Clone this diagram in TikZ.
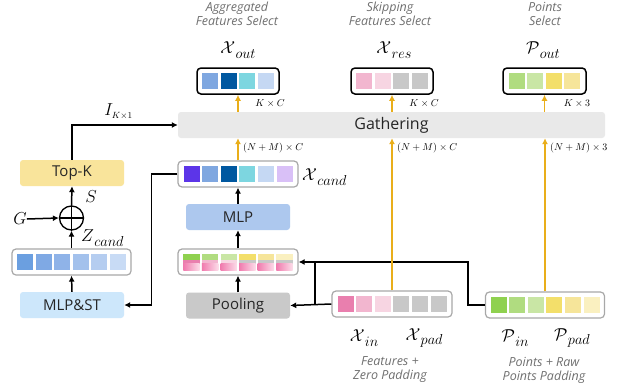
\documentclass[tikz,border=0pt]{standalone}
\usepackage{fontspec}
\setmainfont{Open Sans}
\usetikzlibrary{arrows.meta,calc}
\definecolor{boxgray}{HTML}{A8A8A8}
\definecolor{gold}{HTML}{E9AE1A}
\definecolor{topkc}{HTML}{F9E49B}
\definecolor{mlpstc}{HTML}{CDE7FB}
\definecolor{mlpc}{HTML}{ADC8EE}
\definecolor{poolc}{HTML}{C9C9C9}
\definecolor{gathc}{HTML}{E9E9E9}
\definecolor{labgray}{HTML}{707070}
\definecolor{lb1}{HTML}{6B9FE0}
\definecolor{lb2}{HTML}{7FA9E4}
\definecolor{lb3}{HTML}{8FB3E8}
\definecolor{lb4}{HTML}{A3C1EC}
\definecolor{lb5}{HTML}{B5CDF0}
\definecolor{lb6}{HTML}{C8DBF5}
\definecolor{cv}{HTML}{5C35E8}
\definecolor{cb}{HTML}{7FA7E0}
\definecolor{cd}{HTML}{0058A0}
\definecolor{cc}{HTML}{7DD6E0}
\definecolor{cl}{HTML}{C5D8F3}
\definecolor{cp}{HTML}{D9C0F7}
\definecolor{xi1}{HTML}{E97FAE}
\definecolor{xi2}{HTML}{F2B6CF}
\definecolor{xi3}{HTML}{F7D5E2}
\definecolor{xg}{HTML}{C8C8C8}
\definecolor{pg1}{HTML}{8FD14F}
\definecolor{pg2}{HTML}{B0DC80}
\definecolor{pg3}{HTML}{C9E6A5}
\definecolor{py1}{HTML}{F3DF6A}
\definecolor{py2}{HTML}{F6E59A}
\definecolor{py3}{HTML}{FAF0C0}
\definecolor{pinkd}{HTML}{F07BAE}
\definecolor{pinkl}{HTML}{FCDDE9}
\newcommand{\cellrow}[3]{%
  \foreach \c [count=\i] in {#3}
    \node[cellb,fill=\c] (#1-\i) at ($(#1.center)+({(\i-(#2+1)/2)*18.6},0)$) {};}
\newcommand{\sublab}[2]{$#1$\kern0.3pt\raisebox{-4.5pt}{\fontsize{13.5}{15}\selectfont$#2$}}
\begin{document}
\begin{tikzpicture}[x=1pt,y=-1pt,
  vecbox/.style={draw=boxgray,line width=1.2pt,rounded corners=4pt,fill=white,inner sep=0,minimum width=120pt,minimum height=26pt},
  outbox/.style={draw=black,line width=1.5pt,rounded corners=4pt,fill=white,inner sep=0,minimum width=82pt,minimum height=26pt},
  cellb/.style={minimum width=16pt,minimum height=16pt,inner sep=0,draw=none},
  opbox/.style={rounded corners=3pt,inner sep=0,minimum width=104pt,minimum height=26pt,font=\fontsize{15}{18}\selectfont,text=black!85},
  arr/.style={line width=1.5pt,-{Latex[length=6pt,width=6pt]}},
  garr/.style={line width=1.5pt,draw=gold,-{Latex[length=6pt,width=6pt]}},
  plainline/.style={line width=1.5pt},
  dimlab/.style={font=\fontsize{10}{12}\selectfont,inner sep=0},
  mathlab/.style={font=\fontsize{18}{21}\selectfont,inner sep=0},
  itlab/.style={font=\fontsize{12.5}{15}\selectfont\itshape,text=labgray,inner sep=0,align=center}
]
\fill[white] (0,0) rectangle (621,391);
\useasboundingbox (0,0) rectangle (621,391);

% gathering
\node[opbox,fill=gathc,minimum width=427pt,font=\fontsize{16}{19}\selectfont] (gath) at (391.5,125) {Gathering};

% left column
\node[opbox,fill=topkc] (topk) at (72,173) {Top-K};
\node[circle,draw,line width=1.3pt,minimum size=24pt,inner sep=0] (oplus) at (71.5,218) {};
\draw[line width=1.3pt] (oplus.north) -- (oplus.south) (oplus.west) -- (oplus.east);
\node[vecbox,minimum width=119pt] (lvec) at (71.5,262) {};
\cellrow{lvec}{6}{lb1,lb2,lb3,lb4,lb5,lb6}
\node[opbox,fill=mlpstc] (mlpst) at (72,305) {MLP\&ST};
\node[mathlab] (G) at (20,219) {$G$};
\node[mathlab] (S) at (91,197) {$S$};
\node[mathlab,anchor=west] (Z) at (81,238) {\sublab{Z}{cand}};

% middle column
\node[vecbox] (xcand) at (238,174) {};
\cellrow{xcand}{6}{cv,cb,cd,cc,cl,cp}
\node[mathlab,anchor=west] (xcandl) at (302,177) {\sublab{\mathcal{X}}{cand}};
\node[opbox,fill=mlpc] (mlp) at (238,217) {MLP};
\node[vecbox] (pooled) at (238,262) {};
\foreach \a/\b [count=\i] in {pg1/xi1,pg2/xi2,pg3/xi3,py1/xg,py2/xg,py3/xg}{
  \node[cellb] (pooled-\i) at ($(pooled.center)+({(\i-3.5)*18.6},0)$) {};
  \fill[\a] (pooled-\i.north west) rectangle ($(pooled-\i.north east)+(0,6)$);
  \fill[\b] ($(pooled-\i.north west)+(0,6)$) rectangle ($(pooled-\i.north east)+(0,10)$);
  \shade[left color=pinkd,right color=pinkl] ($(pooled-\i.north west)+(0,10)$) rectangle (pooled-\i.south east);
}
\node[opbox,fill=poolc] (pool) at (238,305.5) {Pooling};

% inputs
\node[vecbox] (xin) at (392,304) {};
\cellrow{xin}{6}{xi1,xi2,xi3,xg,xg,xg}
\node[vecbox,minimum width=119pt] (pin) at (545,305) {};
\cellrow{pin}{6}{pg1,pg2,pg3,py1,py2,py3}

\node[mathlab] (xinl) at (364,338) {\sublab{\mathcal{X}}{in}};
\node[mathlab] (xpadl) at (424,338) {\sublab{\mathcal{X}}{pad}};
\node[mathlab] (pinl) at (515,338) {\sublab{\mathcal{P}}{in}};
\node[mathlab] (ppadl) at (572,338) {\sublab{\mathcal{P}}{pad}};
\node[itlab] (featl) at (390,370) {Features +\\[-1pt]Zero Padding};
\node[itlab] (ptsl) at (544,370) {Points + Raw\\[-1pt]Points Padding};

% outputs
\node[outbox] (xout) at (238,81) {};
\cellrow{xout}{4}{cb,cd,cc,cl}
\node[outbox] (xres) at (392,81) {};
\cellrow{xres}{4}{xi2,xi3,xg,xg}
\node[outbox,minimum width=83pt] (pout) at (544.5,81) {};
\cellrow{pout}{4}{pg2,pg3,py1,py2}

\node[mathlab] (xoutl) at (238,50) {\sublab{\mathcal{X}}{out}};
\node[mathlab] (xresl) at (394,50) {\sublab{\mathcal{X}}{res}};
\node[mathlab] (poutl) at (543,50) {\sublab{\mathcal{P}}{out}};
\node[itlab] (aggl) at (237,14) {Aggregated\\[-1pt]Features Select};
\node[itlab] (skipl) at (390,14) {Skipping\\[-1pt]Features Select};
\node[itlab] (ptsel) at (545,14) {Points\\[-1pt]Select};

% dimension labels
\node[dimlab] (d1) at (270,103) {$K\times C$};
\node[dimlab] (d2) at (424,103) {$K\times C$};
\node[dimlab] (d3) at (577,103) {$K\times 3$};
\node[dimlab,anchor=west] (d4) at (243,148) {$(N+M)\times C$};
\node[dimlab,anchor=west] (d5) at (397,148) {$(N+M)\times C$};
\node[dimlab,anchor=west] (d6) at (550,148) {$(N+M)\times 3$};

% black connectors
\draw[arr] (topk.north) |- node[pos=0.72,above=2pt,font=\fontsize{18}{20}\selectfont] {$I_{\scriptscriptstyle K\times 1}$} (gath.west);
\draw[arr] (oplus.north) -- (topk.south);
\draw[arr] (lvec.north) -- (oplus.south);
\draw[arr] (mlpst.north) -- (lvec.south);
\draw[arr] (G.east) -- (oplus.west);
\draw[arr] (xcand.west) -- ++(-26,0) |- (mlpst.east);
\draw[arr] (mlp.north) -- (xcand.south);
\draw[arr] (pooled.north) -- (mlp.south);
\draw[arr] (pool.north) -- (pooled.south);
\draw[arr] (xin.west) -- (pool.east);
\draw[arr] (pin.west) -- ++(-17,0) |- (pooled.east);
\coordinate (jb) at (315,304);
\coordinate (jt) at (315,262);
\draw[plainline] (jb) -- (jt);

% gold connectors
\draw[garr] (xcand.north) -- (xcand.north |- gath.south);
\draw[garr] (xin.north) -- (xin.north |- gath.south);
\draw[garr] (pin.north) -- (pin.north |- gath.south);
\draw[garr] (xout.south |- gath.north) -- (xout.south);
\draw[garr] (xres.south |- gath.north) -- (xres.south);
\draw[garr] (pout.south |- gath.north) -- (pout.south);
\end{tikzpicture}
\end{document}
